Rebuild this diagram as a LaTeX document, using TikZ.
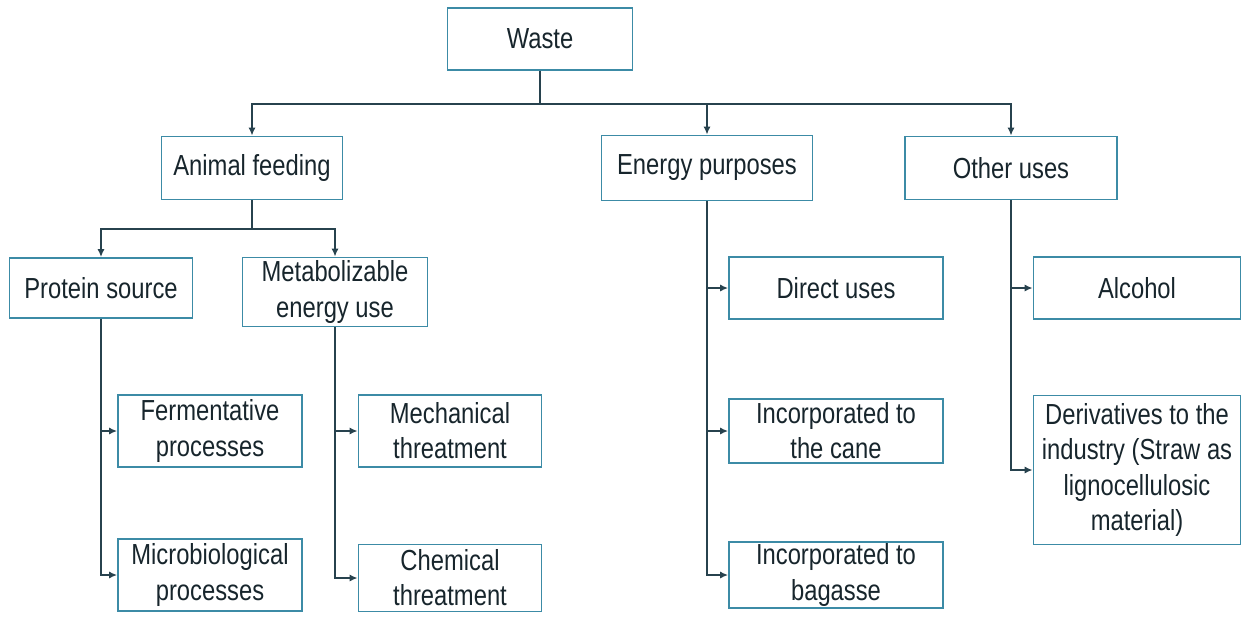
\documentclass[tikz,border=0pt]{standalone}
\usepackage{fontspec}
\setmainfont[FakeStretch=0.82]{Liberation Sans}
\usepackage{tikz}
\usetikzlibrary{arrows.meta,positioning,calc}
\definecolor{boxline}{HTML}{3C8BA6}
\definecolor{wire}{HTML}{27424E}
\definecolor{ink}{HTML}{17252C}

\begin{document}
\begin{tikzpicture}[on grid,auto,
   box/.style={draw=boxline,line width=1pt,align=center,text=ink,inner sep=1pt,
      font=\fontsize{16.5}{20}\selectfont},
   link/.style={draw=wire,line width=1.4pt,-{Latex[length=4.5pt,width=4pt]}}]
   \useasboundingbox (0,0) rectangle (24.86,-12.5);

   \node [box,minimum width=3.7cm,minimum height=1.24cm] (waste) at (10.8,-0.78) {Waste};

   \node [box,minimum width=3.62cm,minimum height=1.26cm] (anim) [below left=2.58cm and 5.76cm of waste] {Animal feeding};
   \node [box,minimum width=4.22cm,minimum height=1.3cm] (energy) [below right=2.58cm and 3.34cm of waste] {Energy purposes};
   \node [box,minimum width=4.24cm,minimum height=1.26cm] (other) [below right=2.58cm and 9.42cm of waste] {Other uses};

   \node [box,minimum width=3.66cm,minimum height=1.2cm] (protein) [below left=2.4cm and 3.02cm of anim] {Protein source};
   \node [box,minimum width=3.7cm,minimum height=1.38cm] (metab) [below right=2.48cm and 1.66cm of anim] {Metabolizable\\energy use};

   \node [box,minimum width=3.68cm,minimum height=1.44cm] (ferment) [below right=2.86cm and 2.18cm of protein] {Fermentative\\processes};
   \node [box,minimum width=3.68cm,minimum height=1.44cm] (micro) [below=2.88cm of ferment] {Microbiological\\processes};
   \node [box,minimum width=3.66cm,minimum height=1.44cm] (mech) [right=4.8cm of ferment] {Mechanical\\threatment};
   \node [box,minimum width=3.66cm,minimum height=1.34cm] (chem) [below=2.94cm of mech] {Chemical\\threatment};

   \node [box,minimum width=4.28cm,minimum height=1.24cm] (direct) [below right=2.4cm and 2.58cm of energy] {Direct uses};
   \node [box,minimum width=4.28cm,minimum height=1.28cm] (cane) [below=2.86cm of direct] {Incorporated to\\the cane};
   \node [box,minimum width=4.28cm,minimum height=1.26cm] (bagasse) [below=2.88cm of cane] {Incorporated to\\bagasse};

   \node [box,minimum width=4.14cm,minimum height=1.24cm] (alcohol) [right=6.02cm of direct] {Alcohol};
   \node [box,minimum width=4.14cm,minimum height=2.98cm] (deriv) [below=3.64cm of alcohol] {Derivatives to the\\industry (Straw as\\lignocellulosic\\material)};

   \path[link] (waste.south) -- ++(0,-0.66) -| (anim.north);
   \path[link] (waste.south) -- ++(0,-0.66) -| (energy.north);
   \path[link] (waste.south) -- ++(0,-0.66) -| (other.north);
   \path[link] (anim.south) -- ++(0,-0.57) -| (protein.north);
   \path[link] (anim.south) -- ++(0,-0.57) -| (metab.north);
   \path[link] (protein.south) |- (ferment.west);
   \path[link] (protein.south) |- (micro.west);
   \path[link] (metab.south) |- (mech.west);
   \path[link] (metab.south) |- (chem.west);
   \path[link] (energy.south) |- (direct.west);
   \path[link] (energy.south) |- (cane.west);
   \path[link] (energy.south) |- (bagasse.west);
   \path[link] (other.south) |- (alcohol.west);
   \path[link] (other.south) |- (deriv.west);
\end{tikzpicture}
\end{document}
